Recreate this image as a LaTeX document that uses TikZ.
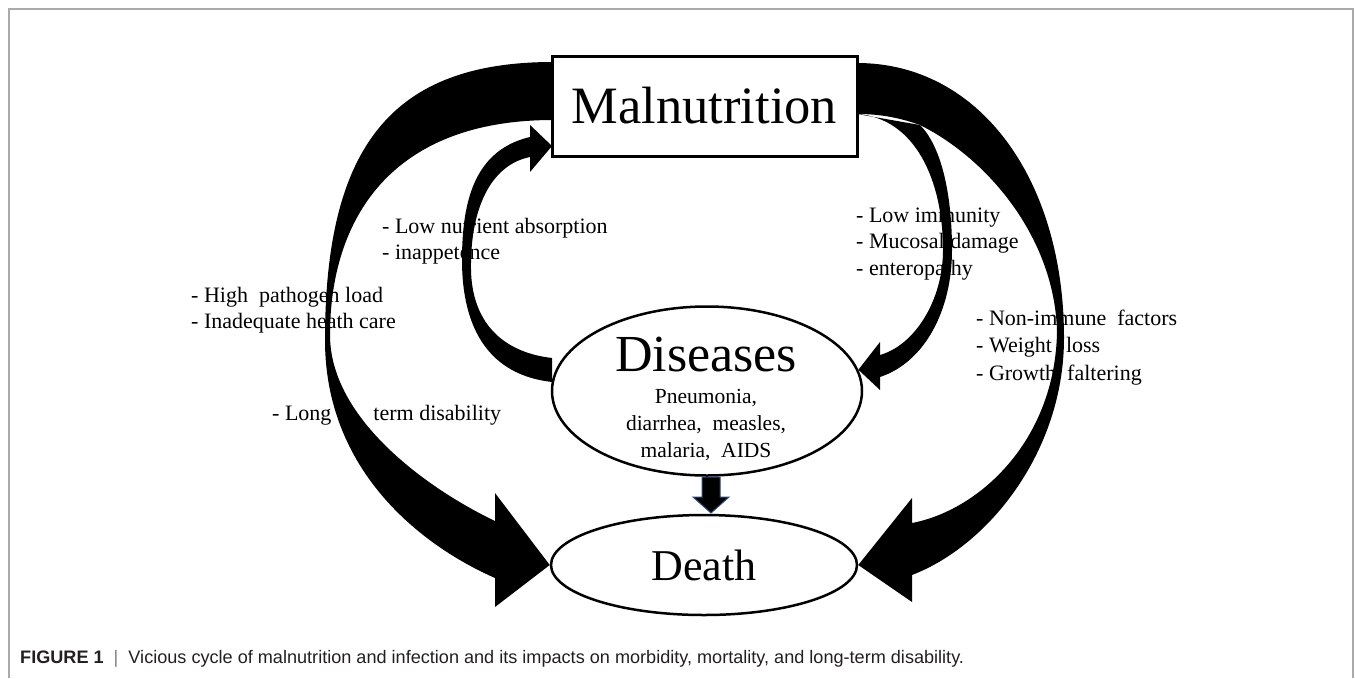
\documentclass[tikz,border=0pt]{standalone}
\usepackage{fontspec}
\setmainfont{Liberation Serif}
\newfontfamily\capfont{Liberation Sans}
\usetikzlibrary{shapes.geometric}
\definecolor{capgray}{RGB}{35,31,32}
\definecolor{framegray}{RGB}{170,170,170}
\definecolor{arrowblue}{RGB}{47,74,122}

\begin{document}
\begin{tikzpicture}[x=1pt,y=-1pt,
	box/.style={draw,line width=3pt,fill=white,minimum width=305pt,minimum height=100pt,inner sep=0pt,font=\fontsize{52.5}{60}\selectfont},
	oval/.style={draw,ellipse,line width=2.5pt,fill=white,inner sep=0pt},
	side/.style={anchor=base west,inner sep=0pt,font=\fontsize{22}{26}\selectfont},
	sub/.style={anchor=base,inner sep=0pt,font=\fontsize{21.5}{26}\selectfont}]
	\useasboundingbox (0,0) rectangle (1355,678);
	%Rahmen
	\draw [framegray,line width=1.2pt] (9,678) -- (9,9) -- (1353,9) -- (1353,678);
	%Kasten und Ellipsen
	\node [box] (maln) at (704.5,106) {Malnutrition};
	\node [oval,minimum width=310pt,minimum height=169pt] (dis) at (707,391) {};
	\node [oval,minimum width=306pt,minimum height=100pt,font=\fontsize{44}{50}\selectfont] (death) at (704,565) {Death};
	%Text in der Ellipse
	\node [anchor=base,inner sep=0pt,font=\fontsize{52}{60}\selectfont] (distitle) at (706,371) {Diseases};
	\node [sub] (dis1) at (706,403) {Pneumonia,};
	\node [sub] (dis2) at (706,430) {diarrhea,\ \ measles,};
	\node [sub] (dis3) at (706,457) {malaria,\ \ AIDS};
	%Beschriftungen links
	\node [side] (absorb) at (382,233) {- Low nutrient absorption};
	\node [side] (appet) at (382,259) {- inappetence};
	\node [side] (pathload) at (191,302) {- High\ \ pathogen load};
	\node [side] (care) at (191,328) {- Inadequate heath care};
	\node [side] (longterm) at (272,420) {- Long\hspace{42pt}term disability};
	%Beschriftungen rechts
	\node [side] (immun) at (856,222) {- Low immunity};
	\node [side] (mucosa) at (856,248) {- Mucosal damage};
	\node [side] (entero) at (856,275) {- enteropathy};
	\node [side] (nonimm) at (976,325) {- Non-immune\ \ factors};
	\node [side] (weight) at (976,352) {- Weight\hspace{14pt}loss};
	\node [side] (growth) at (976,380) {- Growth\hspace{11pt}faltering};
	%grosser Pfeil links
	\fill (553,62) .. controls (393,62) and (325,145) .. (325,340)
		.. controls (325,470) and (420,545) .. (495,578)
		-- (495,607) -- (death.west) -- (495,493) -- (495,521)
		.. controls (430,490) and (330,420) .. (330,335)
		.. controls (330,220) and (390,120) .. (553,120) -- cycle;
	%grosser Pfeil rechts
	\fill (857,63) .. controls (980,63) and (1064,180) .. (1064,338)
		.. controls (1064,450) and (990,545) .. (912,575)
		-- (912,602) -- (death.east) -- (912,498) -- (912,523)
		.. controls (980,510) and (1055,440) .. (1057,332)
		.. controls (1055,240) and (990,160) .. (920,125)
		.. controls (895,116) and (875,114) .. (857,114) -- cycle;
	%Pfeil Malnutrition -> Diseases
	\fill (857,114) .. controls (915,118) and (943,180) .. (943,250)
		.. controls (943,300) and (915,345) .. (880,355)
		-- (880,342) -- (dis.8) -- (880,390) -- (880,377)
		.. controls (925,362) and (952,310) .. (952,250)
		.. controls (952,190) and (940,145) .. (920,125) -- cycle;
	%Pfeil Diseases -> Malnutrition
	\fill (552,382) .. controls (490,375) and (462,330) .. (462,260)
		.. controls (462,200) and (475,150) .. (530,137)
		-- (530,125) -- (552,146) -- (530,172) -- (530,157)
		.. controls (490,165) and (470,210) .. (471,270)
		.. controls (472,320) and (500,352) .. (552,358) -- cycle;
	%Pfeil Diseases -> Death
	\filldraw [fill=black,draw=arrowblue,line width=1pt] (702,477) -- (720,477) -- (720,497) -- (729,497) -- (711,513) -- (693,497) -- (702,497) -- cycle;
	%Bildunterschrift
	\node [anchor=base west,inner sep=0pt,text=capgray,font=\capfont\fontsize{18.1}{21}\selectfont] (caption) at (20,663) {\textbf{FIGURE 1}\ \ {\color{gray}|}\ \ Vicious cycle of malnutrition and infection and its impacts on morbidity, mortality, and long-term disability.};
\end{tikzpicture}
\end{document}
